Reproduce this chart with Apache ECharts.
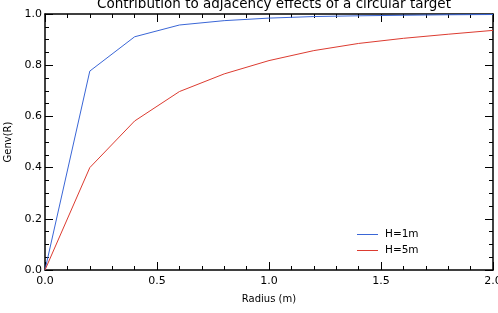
<!DOCTYPE html>
<html>
<head>
<meta charset="utf-8">
<script src="https://cdn.jsdelivr.net/npm/echarts@6/dist/echarts.min.js"></script>
<style>
html, body { margin: 0; padding: 0; background: #fff; }
#main { width: 498px; height: 313px; }
</style>
</head>
<body>
<div id="main"></div>
<script>
// values
var radius = [0.0, 0.2, 0.4, 0.6, 0.8, 1.0, 1.2, 1.4, 1.6, 1.8, 2.0];
var genvH1 = [0.0, 0.777, 0.911, 0.957, 0.974, 0.984, 0.990, 0.993, 0.995, 0.997, 0.998];
var genvH5 = [0.0, 0.400, 0.582, 0.697, 0.766, 0.818, 0.857, 0.885, 0.905, 0.921, 0.936];
var xTicks = ['0.0', '0.5', '1.0', '1.5', '2.0'];
var yTicks = ['0.0', '0.2', '0.4', '0.6', '0.8', '1.0'];

function pairs(ys) {
    return radius.map(function (r, i) { return [r, ys[i]]; });
}

var myChart = echarts.init(document.getElementById('main'));

var font = 'DejaVu Sans';
var black = '#000';

var axisLine = { show: true, onZero: false, lineStyle: { color: black, width: 1.5 } };
var axisTick = { show: true, inside: true, length: 8, lineStyle: { color: black, width: 1 } };

function xAxisDef(pos, labels) {
    return {
        type: 'value', position: pos, min: 0, max: 2, interval: 0.5,
        gridIndex: 0,
        axisLine: axisLine, axisTick: axisTick, splitLine: { show: false },
        minorTick: { show: true, splitNumber: 5, length: 4, lineStyle: { color: black, width: 1 } },
        axisLabel: {
            show: labels, color: black, fontFamily: font, fontSize: 11, margin: 6,
            formatter: function (v) { return xTicks[Math.round(v / 0.5)]; }
        },
        name: labels ? 'Radius (m)' : '', nameLocation: 'middle', nameGap: 24,
        nameTextStyle: { color: black, fontFamily: font, fontSize: 10 }
    };
}

function yAxisDef(pos, labels) {
    return {
        type: 'value', position: pos, min: 0, max: 1, interval: 0.2,
        gridIndex: 0,
        axisLine: axisLine, axisTick: axisTick, splitLine: { show: false },
        minorTick: { show: true, splitNumber: 4, length: 4, lineStyle: { color: black, width: 1 } },
        axisLabel: {
            show: labels, color: black, fontFamily: font, fontSize: 11, margin: 3,
            formatter: function (v) { return yTicks[Math.round(v / 0.2)]; }
        },
        name: labels ? 'Genv(R)' : '', nameLocation: 'middle', nameGap: 31,
        nameTextStyle: { color: black, fontFamily: font, fontSize: 10 }
    };
}

var option = {
    animation: false,
    backgroundColor: '#fff',
    title: {
        text: 'Contribution to adjacency effects of a circular target',
        left: 269, textAlign: 'center', top: -8,
        textStyle: { color: black, fontFamily: font, fontSize: 13.5, fontWeight: 'normal' }
    },
    grid: { left: 45, right: 5, top: 14, bottom: 43, outerBoundsMode: 'none', containLabel: false },
    legend: {
        orient: 'vertical',
        left: 352, top: 224,
        itemWidth: 21, itemHeight: 1, itemGap: 5,
        textStyle: { color: black, fontFamily: font, fontSize: 10.5, padding: [0, 0, 0, 2] },
        data: [
            { name: 'H=1m', icon: 'rect' },
            { name: 'H=5m', icon: 'rect' }
        ]
    },
    xAxis: [xAxisDef('bottom', true), xAxisDef('top', false)],
    yAxis: [yAxisDef('left', true), yAxisDef('right', false)],
    series: [
        {
            name: 'H=1m', type: 'line', symbol: 'none',
            xAxisIndex: 0, yAxisIndex: 0,
            itemStyle: { color: '#3a66d6' },
            lineStyle: { color: '#3a66d6', width: 1 },
            data: pairs(genvH1)
        },
        {
            name: 'H=5m', type: 'line', symbol: 'none',
            xAxisIndex: 0, yAxisIndex: 0,
            itemStyle: { color: '#dc3b30' },
            lineStyle: { color: '#dc3b30', width: 1 },
            data: pairs(genvH5)
        }
    ]
};

myChart.setOption(option);
</script>
</body>
</html>
